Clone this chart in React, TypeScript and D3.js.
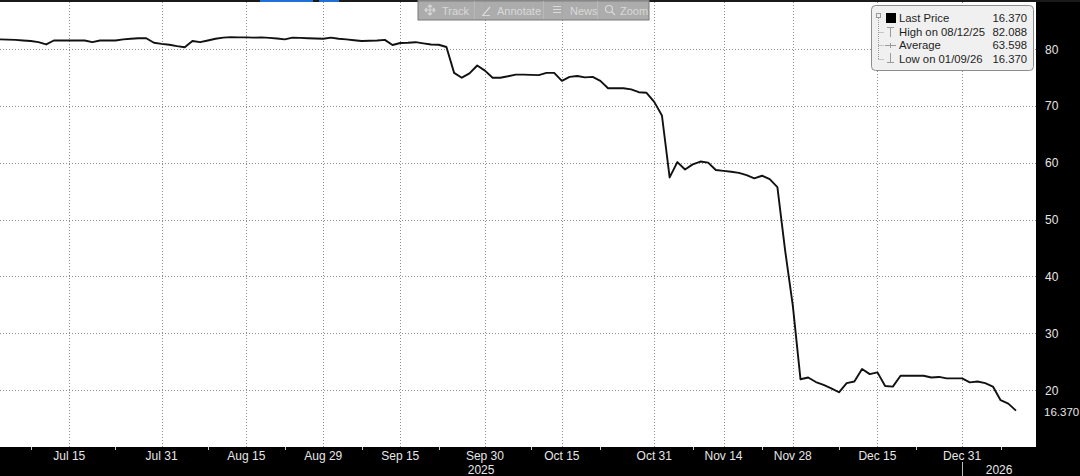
import React from 'react';
import * as d3 from 'd3';

// trading calendar (bond market holidays skipped)
const firstDay = '2025-07-01';
const lastDay = '2026-01-09';
const holidays = ['2025-07-04', '2025-09-01', '2025-10-13', '2025-11-11', '2025-11-27', '2025-12-25', '2026-01-01'];

// last price, one per trading day
const prices = [
  81.7, 81.65, 81.6, 81.5, 81.4, 81.2, 80.8, 81.5, 81.5, 81.5,
  81.5, 81.5, 81.2, 81.5, 81.5, 81.5, 81.7, 81.8, 81.9, 81.9,
  81.1, 80.9, 80.75, 80.5, 80.3, 81.4, 81.2, 81.5, 81.8, 82.0,
  82.088, 82.05, 82.05, 82.0, 82.05, 81.95, 81.85, 81.7, 82.0, 81.95,
  81.9, 81.85, 81.8, 82.0, 81.8, 81.7, 81.55, 81.4, 81.45, 81.5,
  81.6, 80.7, 81.05, 81.1, 81.2, 81.0, 80.8, 80.75, 80.35, 75.8,
  74.95, 75.7, 77.1, 76.2, 74.95, 74.95, 75.2, 75.5, 75.5, 75.45,
  75.4, 75.8, 75.8, 74.4, 75.1, 75.25, 75.0, 75.1, 74.4, 73.1,
  73.1, 73.1, 72.9, 72.4, 72.3, 70.7, 68.3, 57.4, 60.1, 58.8,
  59.7, 60.2, 60.0, 58.7, 58.55, 58.4, 58.2, 57.8, 57.25, 57.7,
  57.1, 55.7, 44.6, 34.9, 21.9, 22.2, 21.4, 20.9, 20.3, 19.6,
  21.2, 21.5, 23.7, 22.8, 23.1, 20.7, 20.6, 22.5, 22.5, 22.5,
  22.5, 22.2, 22.3, 22.05, 22.05, 22.05, 21.35, 21.5, 21.2, 20.6,
  18.2, 17.6, 16.37,
];

const majorTicks = ['2025-07-15', '2025-07-31', '2025-08-15', '2025-08-29', '2025-09-15', '2025-09-30',
  '2025-10-15', '2025-10-31', '2025-11-14', '2025-11-28', '2025-12-15', '2025-12-31'];
const minorTicks = ['2025-07-08', '2025-07-23', '2025-08-08', '2025-08-22', '2025-09-08', '2025-09-22',
  '2025-10-08', '2025-10-22', '2025-11-07', '2025-11-21', '2025-12-08', '2025-12-22', '2026-01-08'];
const yTicks = [20, 30, 40, 50, 60, 70, 80];
const yearLabels = ['2025', '2026'];
const lastPriceLabel = '16.370';

const legendLabels = ['Last Price', 'High on 08/12/25', 'Average', 'Low on 01/09/26'];
const legendValues = ['16.370', '82.088', '63.598', '16.370'];
const toolbarItems = ['Track', 'Annotate', 'News', 'Zoom'];

const W = 1080;
const H = 476;
const plotRight = 1036;
const plotBottom = 447;
const font = "'Liberation Sans', Arial, sans-serif";

const fmt = d3.timeFormat('%Y-%m-%d');
const parse = d3.timeParse('%Y-%m-%d');
const days = d3.timeDay
  .range(parse(firstDay)!, d3.timeDay.offset(parse(lastDay)!, 1))
  .filter(d => d.getDay() % 6 !== 0 && !holidays.includes(fmt(d)));
const idxOf = (s: string) => days.findIndex(d => fmt(d) === s);

export default function App() {
  const x = d3.scaleLinear().domain([0, 132]).range([0, 1016]);
  const y = d3.scaleLinear().domain([20, 80]).range([390, 49]);

  const line = d3.line<number>()
    .x((d, i) => x(i))
    .y(d => y(d));

  const yearSplit = x(idxOf('2025-12-31'));
  const labelFmt = d3.timeFormat('%b %d');

  const tbX = [418, 474, 543, 597, 649];
  const tbText = [442, 497, 570, 620];

  return (
    <svg width={W} height={H} style={{ position: 'absolute', left: 0, top: 0, display: 'block' }}
      fontFamily={font}>
      <rect x={0} y={0} width={W} height={H} fill="#000" />
      <rect x={0} y={2} width={plotRight} height={plotBottom - 2} fill="#fff" />

      {/* grid */}
      {yTicks.map(t => (
        <line key={'h' + t} x1={0} x2={plotRight} y1={Math.round(y(t)) + 0.5} y2={Math.round(y(t)) + 0.5}
          stroke="#8f8f8f" strokeDasharray="1,2" />
      ))}
      {majorTicks.map(t => (
        <line key={'v' + t} x1={Math.round(x(idxOf(t))) + 0.5} x2={Math.round(x(idxOf(t))) + 0.5}
          y1={2} y2={plotBottom} stroke="#8f8f8f" strokeDasharray="1,2" />
      ))}

      {/* price line */}
      <path d={line(prices) || ''} fill="none" stroke="#111" strokeWidth={1.9} strokeLinejoin="round" />

      {/* top scroll strip */}
      <rect x={0} y={0} width={W} height={2} fill="#1a1a1a" />
      <rect x={260} y={0} width={53} height={2} fill="#1f6fd6" />
      <rect x={319} y={0} width={20} height={2} fill="#1f6fd6" />

      {/* toolbar */}
      <rect x={tbX[0]} y={0} width={tbX[4] - tbX[0]} height={20} fill="#a3a3a3" fillOpacity={0.9}
        stroke="#7a7a7a" />
      {tbX.slice(1, 4).map(v => (
        <line key={'s' + v} x1={v + 0.5} x2={v + 0.5} y1={1} y2={19} stroke="#b8b8b8" />
      ))}
      {toolbarItems.map((t, i) => (
        <text key={t} x={tbText[i]} y={14.5} fontSize={11} fill="#d9d9d9">{t}</text>
      ))}
      <g stroke="#d9d9d9" strokeWidth={1.2} fill="none">
        <path d="M425,10H435M430,5V15M428,7L430,5L432,7M428,13L430,15L432,13M427,8L425,10L427,12M433,8L435,10L433,12" />
        <path d="M483,15L490,7M482,15.5H490" />
        <path d="M553,6.5H561M553,9.5H561M553,12.5H561" />
        <circle cx={609} cy={9} r={3.5} />
        <path d="M611.5,11.5L615,15" />
      </g>

      {/* legend */}
      <rect x={871.5} y={5.5} width={162} height={65} rx={4} fill="#f0f0f0" stroke="#8c8c8c" />
      <g stroke="#9a9a9a" fill="none">
        <rect x={876.5} y={13.5} width={4} height={4} />
        <path d="M878.5,18V59M878.5,32.5H884M878.5,45.5H884M878.5,59.5H884" strokeDasharray="1,1" />
        <path d="M887,27.5H894M890.5,27.5V37" />
        <path d="M885,45.5H896M890.5,43V48" />
        <path d="M890.5,53V62M887,62.5H894" />
      </g>
      <rect x={886} y={13} width={10} height={10} fill="#000" />
      {legendLabels.map((t, i) => (
        <text key={t} x={899} y={22 + i * 13.6} fontSize={11.3} fill="#1e1e1e">{t}</text>
      ))}
      {legendValues.map((t, i) => (
        <text key={'lv' + i} x={1027} y={22 + i * 13.6} fontSize={11.3} fill="#1e1e1e" textAnchor="end">{t}</text>
      ))}

      {/* right axis */}
      {yTicks.map(t => (
        <text key={'yl' + t} x={1045} y={y(t) + 4.5} fontSize={12} fill="#e6e6e6">{t}</text>
      ))}
      <text x={1044} y={y(prices[prices.length - 1]) + 5} fontSize={11.5} fill="#e6e6e6">{lastPriceLabel}</text>

      {/* bottom axis */}
      {minorTicks.map(t => (
        <line key={'m' + t} x1={Math.round(x(idxOf(t))) + 0.5} x2={Math.round(x(idxOf(t))) + 0.5}
          y1={plotBottom} y2={plotBottom + 3} stroke="#cfcfcf" />
      ))}
      {majorTicks.map(t => (
        <text key={'xl' + t} x={x(idxOf(t))} y={460} fontSize={12} fill="#e6e6e6" textAnchor="middle">
          {labelFmt(parse(t)!)}
        </text>
      ))}
      <line x1={Math.round(yearSplit) + 0.5} x2={Math.round(yearSplit) + 0.5} y1={462} y2={H} stroke="#bdbdbd" />
      <text x={yearSplit / 2} y={474} fontSize={12} fill="#e6e6e6" textAnchor="middle">{yearLabels[0]}</text>
      <text x={(yearSplit + plotRight) / 2} y={474} fontSize={12} fill="#e6e6e6" textAnchor="middle">{yearLabels[1]}</text>
    </svg>
  );
}
